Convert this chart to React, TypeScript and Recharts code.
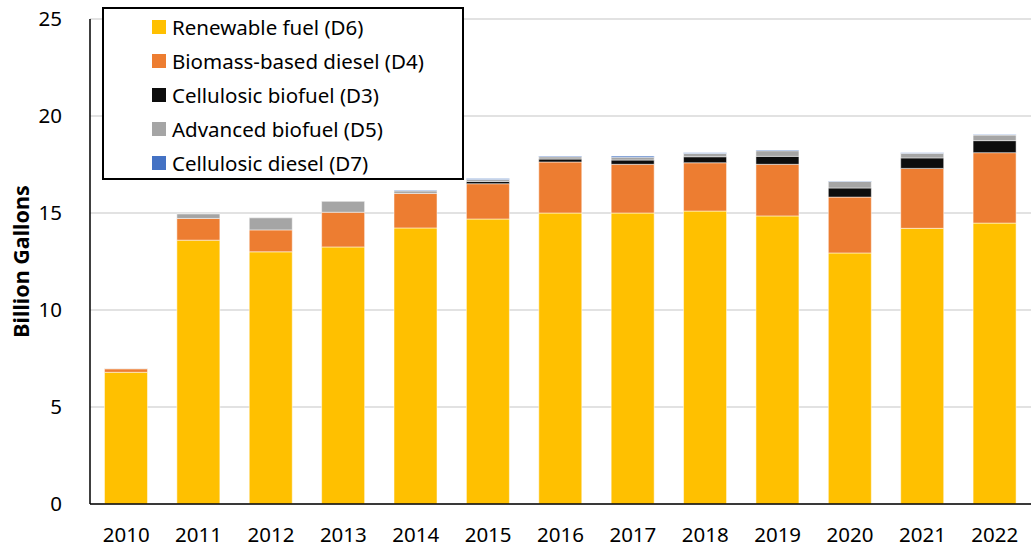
import React from 'react';
import { BarChart, Bar, XAxis, YAxis, CartesianGrid } from 'recharts';

const years = ['2010','2011','2012','2013','2014','2015','2016','2017','2018','2019','2020','2021','2022'];
const renewableD6 = [6.79, 13.6, 13.0, 13.25, 14.23, 14.69, 15.0, 15.0, 15.1, 14.85, 12.94, 14.21, 14.48];
const biomassD4 = [0.18, 1.12, 1.13, 1.79, 1.78, 1.82, 2.63, 2.51, 2.49, 2.66, 2.88, 3.09, 3.63];
const cellulosicD3 = [0, 0, 0, 0, 0, 0.12, 0.15, 0.22, 0.31, 0.41, 0.47, 0.54, 0.62];
const advancedD5 = [0.02, 0.23, 0.62, 0.56, 0.13, 0.1, 0.12, 0.15, 0.17, 0.29, 0.34, 0.24, 0.29];
const cellulosicD7 = [0, 0, 0, 0, 0.03, 0.05, 0.04, 0.06, 0.03, 0.04, 0.02, 0.02, 0.02];
const yTicks = [0, 5, 10, 15, 20, 25];

const series = [
  { key: 'd6', name: 'Renewable fuel (D6)', color: '#FFC000', values: renewableD6 },
  { key: 'd4', name: 'Biomass-based diesel (D4)', color: '#ED7D31', values: biomassD4 },
  { key: 'd3', name: 'Cellulosic biofuel (D3)', color: '#0D0D0D', values: cellulosicD3 },
  { key: 'd5', name: 'Advanced biofuel (D5)', color: '#A5A5A5', values: advancedD5 },
  { key: 'd7', name: 'Cellulosic diesel (D7)', color: '#4472C4', values: cellulosicD7 },
];

const data = years.map((y, i) => {
  const row: any = { year: y };
  series.forEach((s) => { row[s.key] = s.values[i]; });
  return row;
});

const FONT = '"Noto Sans", "Open Sans", sans-serif';

const LegendBox = () => (
  <div
    style={{
      position: 'absolute',
      left: 102,
      top: 7,
      width: 358,
      height: 169,
      border: '2px solid #000',
      background: '#fff',
      boxSizing: 'content-box',
      fontFamily: FONT,
      fontSize: 20.5,
      color: '#000',
    }}
  >
    {series.map((s, i) => (
      <div
        key={s.key}
        style={{ position: 'absolute', left: 48, top: 4 + i * 34, height: 28, display: 'flex', alignItems: 'center', whiteSpace: 'nowrap' }}
      >
        <span style={{ display: 'inline-block', width: 14, height: 14, background: s.color, marginRight: 6 }} />
        <span>{s.name}</span>
      </div>
    ))}
  </div>
);

const YLabel = (props: any) => {
  const vb = props.viewBox || { x: 0, y: 19, width: 90, height: 485 };
  const cx = 20;
  const cy = vb.y + vb.height / 2;
  return (
    <text
      x={cx}
      y={cy}
      transform={`rotate(-90, ${cx}, ${cy})`}
      textAnchor="middle"
      dominantBaseline="central"
      style={{ fontFamily: FONT, fontSize: 21.5, fontWeight: 700, fill: '#000' }}
    >
      Billion Gallons
    </text>
  );
};

export default function App() {
  return (
    <div style={{ position: 'absolute', left: 0, top: 0, width: 1032, height: 548, background: '#fff' }}>
      <BarChart
        width={1032}
        height={548}
        data={data}
        margin={{ top: 19, right: 1, bottom: 0, left: 0 }}
        barCategoryGap="20%"
      >
        <CartesianGrid vertical={false} stroke="#D9D9D9" strokeWidth={1.5} />
        <XAxis
          dataKey="year"
          height={44}
          axisLine={{ stroke: '#000', strokeWidth: 1.5 }}
          tickLine={false}
          tick={{ fill: '#000', fontSize: 20.5, fontFamily: FONT }}
          tickMargin={17}
          interval={0}
        />
        <YAxis
          width={90}
          domain={[0, 25]}
          ticks={yTicks}
          axisLine={{ stroke: '#000', strokeWidth: 1.5 }}
          tickLine={false}
          tick={{ fill: '#000', fontSize: 20.5, fontFamily: FONT }}
          tickMargin={22}
          label={{ content: YLabel }}
        />
        {series.map((s) => (
          <Bar
            key={s.key}
            dataKey={s.key}
            name={s.name}
            stackId="a"
            fill={s.color}
            stroke="#fff"
            strokeWidth={0.5}
            isAnimationActive={false}
          />
        ))}
      </BarChart>
      <LegendBox />
    </div>
  );
}
